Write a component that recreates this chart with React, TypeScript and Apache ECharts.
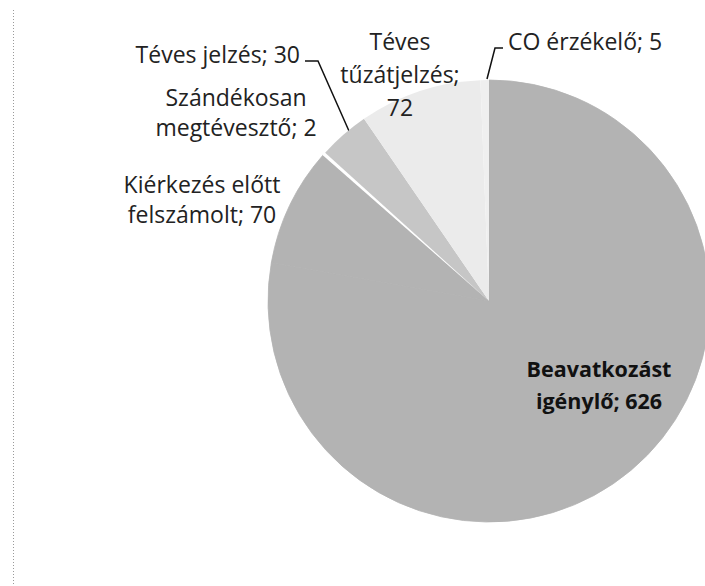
import React, { useEffect, useRef } from "react";
import * as echarts from "echarts";

const categories = [
  "Beavatkozást igénylő",
  "Kiérkezés előtt felszámolt",
  "Szándékosan megtévesztő",
  "Téves jelzés",
  "Téves tűzátjelzés",
  "CO érzékelő",
];
const values = [626, 70, 2, 30, 72, 5];
const labelNames = [
  "Beavatkozást\nigénylő",
  "Kiérkezés előtt\nfelszámolt",
  "Szándékosan\nmegtévesztő",
  "Téves jelzés",
  "Téves\ntűzátjelzés",
  "CO érzékelő",
];
const labelSeparators = [" ", " ", " ", " ", "\n", " "];
const sliceColors = ["#b3b3b3", "#b3b3b3", "#ffffff", "#c6c6c6", "#ebebeb", "#efefef"];
const sliceBorders = [0.8, 0.8, 0, 0, 0, 0];

// label placement (pixels in the chart box)
const labelPlacement: any[] = [
  { x: 599, y: 384, align: "center", lh: 32 },
  { x: 202, y: 199, align: "center", lh: 30 },
  { x: 236, y: 112, align: "center", lh: 30 },
  { x: 300, y: 54, align: "right", lh: 31, line: [[305, 61], [318, 61], [349, 131]] },
  { x: 400, y: 74, align: "center", lh: 33 },
  { x: 508, y: 41, align: "left", lh: 31, line: [[503, 48], [495, 48], [487, 79]] },
];

export default function App() {
  const ref = useRef<HTMLDivElement>(null);
  useEffect(() => {
    if (!ref.current) return;
    const chart = echarts.init(ref.current, undefined, { renderer: "svg" });
    const data = categories.map((name, i) => ({
      name,
      value: values[i],
      itemStyle: {
        color: sliceColors[i],
        borderColor: sliceColors[i],
        borderWidth: sliceBorders[i],
      },
      label:
        i === 0
          ? { fontWeight: "bold", fontSize: 21.5, color: "#111", lineHeight: labelPlacement[i].lh }
          : { lineHeight: labelPlacement[i].lh },
      labelLine: { show: !!labelPlacement[i].line },
    }));
    chart.setOption({
      animation: false,
      backgroundColor: "#ffffff",
      graphic: [
        {
          type: "line",
          shape: { x1: 13.5, y1: 10, x2: 13.5, y2: 586 },
          style: { stroke: "#9a9a9a", lineWidth: 1, lineDash: [1, 2] },
        },
      ],
      series: [
        {
          type: "pie",
          center: [489, 301],
          radius: 221,
          startAngle: 90,
          clockwise: true,
          avoidLabelOverlap: false,
          data,
          label: {
            show: true,
            position: "outside",
            fontFamily: "Open Sans",
            fontSize: 23,
            color: "#222",
            formatter: (p: any) =>
              labelNames[p.dataIndex] + ";" + labelSeparators[p.dataIndex] + p.value,
          },
          labelLine: {
            lineStyle: { color: "#111", width: 1.5 },
          },
          labelLayout: (params: any) => {
            const lp = labelPlacement[params.dataIndex];
            const out: any = {
              x: lp.x,
              y: lp.y,
              align: lp.align,
              verticalAlign: "middle",
            };
            if (lp.line) out.labelLinePoints = lp.line;
            return out;
          },
          emphasis: { disabled: true },
        },
      ],
    });
    return () => chart.dispose();
  }, []);
  return (
    <div
      ref={ref}
      style={{ position: "fixed", left: 0, top: 0, width: 705, height: 586 }}
    />
  );
}
